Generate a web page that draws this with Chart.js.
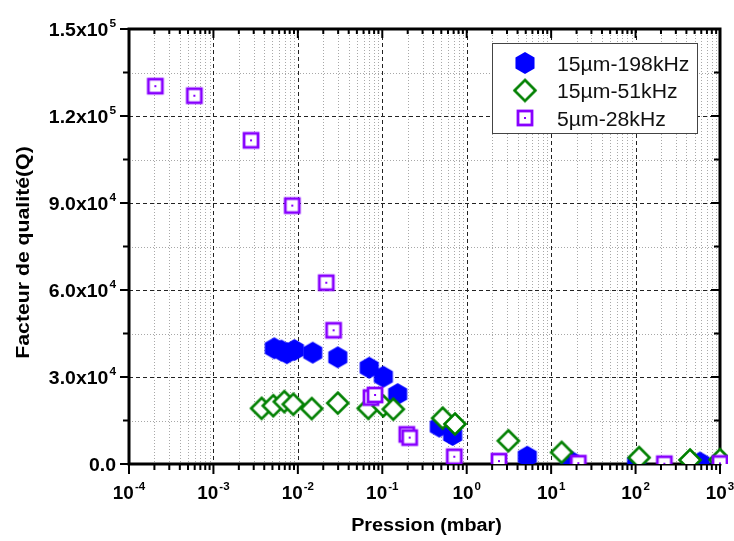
<!DOCTYPE html>
<html>
<head>
<meta charset="utf-8">
<script src="https://cdn.jsdelivr.net/npm/chart.js@4.4.0/dist/chart.umd.min.js"></script>
<style>
  html, body { margin: 0; padding: 0; background: #fff; }
  #myChart { display: block; }
</style>
</head>
<body>
<canvas id="myChart" width="734" height="541"></canvas>
<script>
// Values (pressure in mbar, quality factor Q)
const blueLabel = '15µm-198kHz';
const blueX = [0.00526, 0.0064, 0.0074, 0.0091, 0.015, 0.0297, 0.070, 0.103, 0.152, 0.473, 0.682, 5.22, 16.5, 103, 580, 1000];
const blueY = [39900, 39100, 38200, 39300, 38400, 36800, 33200, 30100, 24100, 12900, 10000, 2500, 1200, 300, 500, 300];

const greenLabel = '15µm-51kHz';
const greenX = [0.00372, 0.00512, 0.0069, 0.00883, 0.0146, 0.0297, 0.0682, 0.1028, 0.135, 0.519, 0.726, 3.11, 13.3, 110, 441, 1000];
const greenY = [19200, 20100, 21500, 20600, 19100, 21000, 19200, 20000, 18900, 15800, 13800, 8000, 4000, 2200, 1400, 1500];

const purpleLabel = '5µm-28kHz';
const purpleX = [0.000205, 0.000594, 0.00279, 0.00859, 0.0217, 0.0265, 0.0734, 0.082, 0.195, 0.211, 0.713, 2.41, 21, 219, 1000];
const purpleY = [130300, 127000, 111600, 89100, 62500, 46100, 22900, 23800, 10200, 9100, 2500, 1000, 300, 100, 200];

// Axis ticks and labels
const xTickValues = [1e-4, 1e-3, 1e-2, 1e-1, 1e0, 1e1, 1e2, 1e3];
const xTickLabels = ['10^-4', '10^-3', '10^-2', '10^-1', '10^0', '10^1', '10^2', '10^3'];
const yTickValues = [0, 30000, 60000, 90000, 120000, 150000];
const yTickLabels = ['0.0', '3.0x10^4', '6.0x10^4', '9.0x10^4', '1.2x10^5', '1.5x10^5'];
const yMinorValues = [15000, 45000, 75000, 105000, 135000];
const xTitle = 'Pression (mbar)';
const yTitle = 'Facteur de qualité(Q)';

const FONT = '"Liberation Sans", Arial, sans-serif';

function toPoints(xs, ys) {
    return xs.map((x, i) => ({ x: x, y: ys[i] }));
}

// Marker images
function makeHexagon(color, h) {
    const w = h * Math.cos(Math.PI / 6);
    const c = document.createElement('canvas');
    c.width = 22; c.height = 24;
    const g = c.getContext('2d');
    const cx = c.width / 2, cy = c.height / 2;
    g.beginPath();
    g.moveTo(cx, cy - h / 2);
    g.lineTo(cx + w / 2, cy - h / 4);
    g.lineTo(cx + w / 2, cy + h / 4);
    g.lineTo(cx, cy + h / 2);
    g.lineTo(cx - w / 2, cy + h / 4);
    g.lineTo(cx - w / 2, cy - h / 4);
    g.closePath();
    g.fillStyle = color;
    g.fill();
    return c;
}

function makeDiamond(color, r) {
    const c = document.createElement('canvas');
    c.width = 26; c.height = 26;
    const g = c.getContext('2d');
    const cx = 13, cy = 13;
    g.beginPath();
    g.moveTo(cx, cy - r);
    g.lineTo(cx + r, cy);
    g.lineTo(cx, cy + r);
    g.lineTo(cx - r, cy);
    g.closePath();
    g.fillStyle = '#fff';
    g.fill();
    g.lineWidth = 2.6;
    g.strokeStyle = color;
    g.stroke();
    return c;
}

function makeSquare(color, s) {
    const c = document.createElement('canvas');
    c.width = 20; c.height = 20;
    const g = c.getContext('2d');
    const o = (20 - s) / 2;
    g.fillStyle = '#fff';
    g.fillRect(o, o, s, s);
    g.lineWidth = 2.8;
    g.strokeStyle = color;
    g.strokeRect(o, o, s, s);
    g.fillStyle = color;
    g.fillRect(9, 9, 2, 2);
    return c;
}

const hexImg = makeHexagon('#0000ff', 22);
const diamondImg = makeDiamond('#008000', 10.5);
const squareImg = makeSquare('#8800ff', 14);

// Draw "base^exp" text with a raised exponent
function drawSupText(ctx, text, x, y, size, align, stretch) {
    const parts = text.split('^');
    const base = parts[0], exp = parts[1] || '';
    const baseFont = 'bold ' + size + 'px ' + FONT;
    const expFont = 'bold ' + Math.round(size * 0.62) + 'px ' + FONT;
    ctx.save();
    ctx.translate(x, y);
    ctx.scale(stretch, 1);
    ctx.textAlign = 'left';
    ctx.textBaseline = 'alphabetic';
    ctx.font = baseFont;
    const wb = ctx.measureText(base).width;
    ctx.font = expFont;
    const we = exp ? ctx.measureText(exp).width + 1 : 0;
    const total = wb + we;
    let x0 = 0;
    if (align === 'right') x0 = -total;
    else if (align === 'center') x0 = -total / 2;
    ctx.fillStyle = '#000';
    ctx.font = baseFont;
    ctx.fillText(base, x0, 0);
    if (exp) {
        ctx.font = expFont;
        ctx.fillText(exp, x0 + wb + 1, -size * 0.5);
    }
    ctx.restore();
}

const gridPlugin = {
    id: 'originGrid',
    beforeDatasetsDraw(chart) {
        const { ctx, chartArea: a, scales } = chart;
        const xs = scales.x, ys = scales.y;
        ctx.save();
        ctx.lineWidth = 1;

        // minor grid (dotted grey)
        ctx.strokeStyle = '#a8a8a8';
        ctx.setLineDash([1, 2]);
        ctx.beginPath();
        for (let i = 0; i < xTickValues.length - 1; i++) {
            for (let m = 2; m <= 9; m++) {
                const px = Math.round(xs.getPixelForValue(xTickValues[i] * m)) + 0.5;
                ctx.moveTo(px, a.top);
                ctx.lineTo(px, a.bottom);
            }
        }
        yMinorValues.forEach(v => {
            const py = Math.round(ys.getPixelForValue(v)) + 0.5;
            ctx.moveTo(a.left, py);
            ctx.lineTo(a.right, py);
        });
        ctx.stroke();

        // major grid (dashed black)
        ctx.strokeStyle = '#222';
        ctx.setLineDash([4, 3]);
        ctx.beginPath();
        xTickValues.slice(1, -1).forEach(v => {
            const px = Math.round(xs.getPixelForValue(v)) + 0.5;
            ctx.moveTo(px, a.top);
            ctx.lineTo(px, a.bottom);
        });
        yTickValues.slice(1, -1).forEach(v => {
            const py = Math.round(ys.getPixelForValue(v)) + 0.5;
            ctx.moveTo(a.left, py);
            ctx.lineTo(a.right, py);
        });
        ctx.stroke();
        ctx.setLineDash([]);

        // frame
        ctx.strokeStyle = '#000';
        ctx.lineWidth = 3;
        ctx.strokeRect(a.left, a.top, a.right - a.left, a.bottom - a.top);

        // tick marks
        ctx.lineWidth = 2;
        ctx.beginPath();
        for (let i = 0; i < xTickValues.length; i++) {
            const px = xs.getPixelForValue(xTickValues[i]);
            ctx.moveTo(px, a.bottom); ctx.lineTo(px, a.bottom + 10);
            ctx.moveTo(px, a.top); ctx.lineTo(px, a.top + 9);
            if (i === xTickValues.length - 1) break;
            for (let m = 2; m <= 9; m++) {
                const pm = xs.getPixelForValue(xTickValues[i] * m);
                ctx.moveTo(pm, a.bottom); ctx.lineTo(pm, a.bottom + 6);
                ctx.moveTo(pm, a.top); ctx.lineTo(pm, a.top + 5);
            }
        }
        yTickValues.forEach(v => {
            const py = ys.getPixelForValue(v);
            ctx.moveTo(a.left - 9, py); ctx.lineTo(a.left, py);
            ctx.moveTo(a.right, py); ctx.lineTo(a.right - 9, py);
        });
        yMinorValues.forEach(v => {
            const py = ys.getPixelForValue(v);
            ctx.moveTo(a.left - 6, py); ctx.lineTo(a.left, py);
            ctx.moveTo(a.right, py); ctx.lineTo(a.right - 6, py);
        });
        ctx.stroke();
        ctx.restore();
    },
    afterDraw(chart) {
        const { ctx, chartArea: a, scales } = chart;
        const xs = scales.x, ys = scales.y;
        ctx.save();

        // tick labels
        xTickValues.forEach((v, i) => {
            drawSupText(ctx, xTickLabels[i], xs.getPixelForValue(v), 499, 18, 'center', 1.05);
        });
        yTickValues.forEach((v, i) => {
            drawSupText(ctx, yTickLabels[i], 116, ys.getPixelForValue(v) + 7, 18, 'right', 1.08);
        });

        // axis titles
        drawSupText(ctx, xTitle, (a.left + a.right) / 2 + 2, 531, 18, 'center', 1.1);
        ctx.save();
        ctx.translate(29, (a.top + a.bottom) / 2 + 6);
        ctx.rotate(-Math.PI / 2);
        drawSupText(ctx, yTitle, 0, 0, 18, 'center', 1.18);
        ctx.restore();

        // legend box
        const box = { left: 492.5, top: 43.5, right: 697.5, bottom: 133.5 };
        ctx.fillStyle = '#fff';
        ctx.fillRect(box.left, box.top, box.right - box.left, box.bottom - box.top);
        ctx.strokeStyle = '#444';
        ctx.lineWidth = 1;
        ctx.strokeRect(box.left, box.top, box.right - box.left, box.bottom - box.top);
        const rowY = [63, 90.5, 118];
        chart.data.datasets.forEach((ds, i) => {
            const img = ds.pointStyle;
            ctx.drawImage(img, 525 - img.width / 2, rowY[i] - img.height / 2);
            ctx.save();
            ctx.translate(557, rowY[i] + 7.5);
            ctx.scale(1.06, 1);
            ctx.font = '20px ' + FONT;
            ctx.fillStyle = '#111';
            ctx.textAlign = 'left';
            ctx.textBaseline = 'alphabetic';
            ctx.fillText(ds.label, 0, 0);
            ctx.restore();
        });
        ctx.restore();
    }
};

const ctx = document.getElementById('myChart');
new Chart(ctx, {
    type: 'scatter',
    data: {
        datasets: [
            {
                label: blueLabel,
                data: toPoints(blueX, blueY),
                pointStyle: hexImg,
                pointRadius: 10,
                order: 3,
                clip: { left: 0, top: 0, right: 8, bottom: 0 }
            },
            {
                label: greenLabel,
                data: toPoints(greenX, greenY),
                pointStyle: diamondImg,
                pointRadius: 10,
                order: 2,
                clip: { left: 0, top: 0, right: 8, bottom: 0 }
            },
            {
                label: purpleLabel,
                data: toPoints(purpleX, purpleY),
                pointStyle: squareImg,
                pointRadius: 10,
                order: 1,
                clip: { left: 0, top: 0, right: 8, bottom: 0 }
            }
        ]
    },
    options: {
        responsive: false,
        animation: false,
        layout: { padding: { left: 129, top: 29, right: 14, bottom: 77 } },
        plugins: {
            legend: { display: false },
            tooltip: { enabled: false }
        },
        scales: {
            x: { type: 'logarithmic', min: 1e-4, max: 1e3, display: false },
            y: { type: 'linear', min: 0, max: 150000, display: false }
        }
    },
    plugins: [gridPlugin]
});
</script>
</body>
</html>
